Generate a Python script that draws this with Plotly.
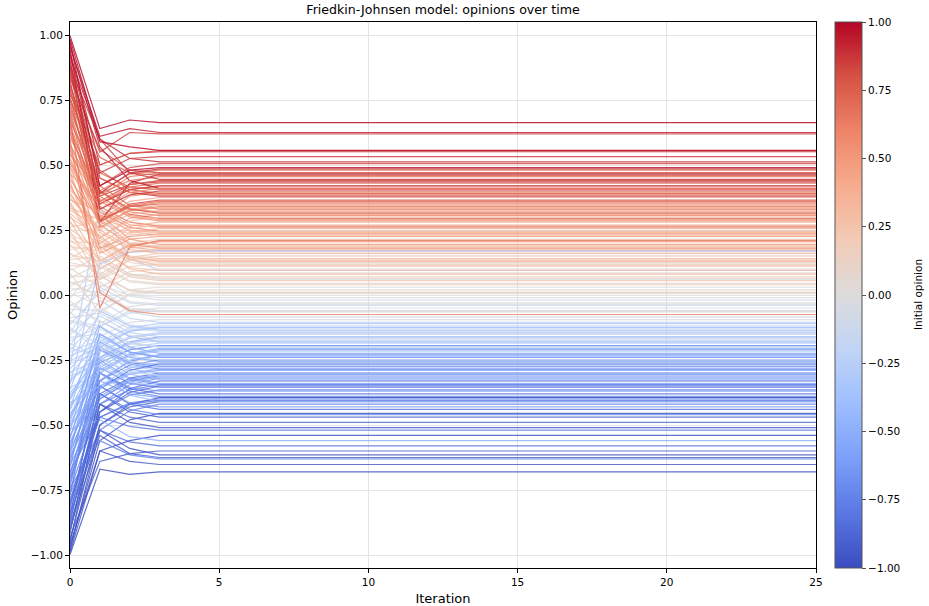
import plotly.graph_objects as go
from plotly.colors import sample_colorscale

iterations = list(range(26))

# Opinion of each agent at iteration 0 (initial), 1, 2 and the settled value (iteration 3+)
initial = [
    -0.998, -0.991, -0.983, -0.972, -0.961, -0.953, -0.944, -0.931, -0.918, -0.905,
    -0.896, -0.884, -0.877, -0.866, -0.852, -0.843, -0.835, -0.822, -0.811, -0.803,
    -0.794, -0.786, -0.771, -0.763, -0.752, -0.741, -0.733, -0.722, -0.710, -0.702,
    -0.695, -0.684, -0.676, -0.663, -0.655, -0.644, -0.632, -0.621, -0.613, -0.604,
    -0.597, -0.588, -0.574, -0.566, -0.553, -0.545, -0.536, -0.524, -0.515, -0.503,
    -0.496, -0.487, -0.473, -0.466, -0.455, -0.442, -0.434, -0.425, -0.413, -0.404,
    -0.398, -0.386, -0.377, -0.365, -0.357, -0.344, -0.336, -0.324, -0.312, -0.303,
    -0.297, -0.285, -0.276, -0.264, -0.253, -0.245, -0.233, -0.221, -0.214, -0.202,
    -0.196, -0.187, -0.176, -0.163, -0.154, -0.146, -0.133, -0.125, -0.114, -0.103,
    -0.097, -0.088, -0.074, -0.066, -0.055, -0.043, -0.034, -0.022, -0.013, -0.004,
    0.006, 0.015, 0.027, 0.034, 0.046, 0.053, 0.065, 0.072, 0.084, 0.093,
    0.104, 0.113, 0.125, 0.136, 0.142, 0.155, 0.163, 0.174, 0.186, 0.195,
    0.203, 0.214, 0.226, 0.233, 0.247, 0.255, 0.262, 0.276, 0.284, 0.297,
    0.306, 0.315, 0.327, 0.334, 0.348, 0.356, 0.365, 0.373, 0.385, 0.394,
    0.403, 0.416, 0.424, 0.435, 0.443, 0.456, 0.465, 0.474, 0.487, 0.496,
    0.505, 0.513, 0.526, 0.537, 0.544, 0.558, 0.566, 0.575, 0.583, 0.597,
    0.604, 0.617, 0.625, 0.633, 0.648, 0.655, 0.664, 0.676, 0.683, 0.695,
    0.703, 0.712, 0.724, 0.736, 0.745, 0.753, 0.767, 0.774, 0.786, 0.795,
    0.806, 0.813, 0.827, 0.834, 0.845, 0.858, 0.866, 0.875, 0.884, 0.897,
    0.904, 0.916, 0.925, 0.937, 0.945, 0.953, 0.964, 0.976, 0.985, 0.997,
]

iter1 = [
    -0.670, -0.600, -0.520, -0.560, -0.600, -0.420, -0.500, -0.640, -0.380, -0.450,
    -0.540, -0.500, -0.380, -0.420, -0.300, -0.520, -0.450, -0.350, -0.360, -0.470,
    -0.450, -0.470, -0.210, -0.520, -0.420, -0.560, -0.330, -0.300, -0.400, -0.380,
    -0.280, -0.330, -0.470, -0.200, -0.420, -0.260, -0.350, -0.390, -0.300, -0.150,
    -0.350, -0.250, -0.300, -0.330, -0.180, -0.240, -0.400, -0.120, -0.480, -0.360,
    -0.290, -0.180, -0.260, -0.220, -0.330, -0.210, -0.100, -0.300, -0.350, -0.200,
    -0.160, -0.280, -0.240, -0.060, -0.300, 0.120, -0.200, -0.250, -0.270, -0.180,
    -0.250, -0.150, 0.340, -0.220, -0.200, -0.120, -0.190, -0.170, -0.080, -0.240,
    -0.020, -0.240, -0.120, -0.150, -0.050, 0.030, -0.190, -0.220, 0.010, -0.130,
    -0.120, -0.070, 0.080, -0.160, -0.060, 0.020, -0.100, -0.110, 0.130, 0.040,
    -0.040, 0.050, 0.010, 0.090, 0.060, -0.010, 0.120, 0.070, -0.070, 0.150,
    0.030, 0.110, 0.100, 0.150, 0.200, 0.130, 0.070, 0.190, 0.170, 0.080,
    0.200, 0.120, 0.140, 0.180, 0.060, 0.170, 0.280, 0.220, 0.100, 0.230,
    0.130, 0.220, 0.260, 0.290, 0.170, 0.190, 0.320, 0.250, 0.240, 0.200,
    0.300, 0.250, 0.220, 0.130, 0.290, 0.210, 0.370, 0.160, 0.270, 0.310,
    0.330, 0.300, 0.270, 0.400, 0.350, 0.180, 0.280, 0.360, 0.330, 0.010,
    0.400, 0.350, 0.320, 0.380, 0.260, 0.340, 0.450, 0.390, -0.050, 0.280,
    0.350, 0.420, 0.400, 0.380, 0.470, 0.500, 0.290, 0.530, 0.400, 0.360,
    0.480, 0.420, 0.280, 0.560, 0.550, 0.350, 0.470, 0.600, 0.330, 0.390,
    0.380, 0.600, 0.450, 0.500, 0.280, 0.610, 0.570, 0.420, 0.590, 0.640,
]

iter2 = [
    -0.690, -0.560, -0.590, -0.480, -0.640, -0.490, -0.420, -0.610, -0.450, -0.375,
    -0.610, -0.430, -0.320, -0.470, -0.360, -0.565, -0.360, -0.420, -0.290, -0.420,
    -0.385, -0.505, -0.265, -0.445, -0.365, -0.615, -0.270, -0.370, -0.330, -0.440,
    -0.340, -0.255, -0.415, -0.260, -0.345, -0.210, -0.415, -0.325, -0.355, -0.220,
    -0.300, -0.320, -0.230, -0.380, -0.240, -0.180, -0.335, -0.200, -0.545, -0.305,
    -0.225, -0.255, -0.325, -0.165, -0.250, -0.285, -0.160, -0.385, -0.280, -0.140,
    -0.220, -0.210, -0.305, -0.120, -0.235, 0.165, -0.265, -0.185, -0.335, -0.125,
    -0.200, -0.220, 0.140, -0.160, -0.275, -0.185, -0.135, -0.235, -0.145, -0.295,
    -0.090, -0.190, -0.070, -0.205, -0.115, -0.030, -0.255, -0.165, -0.065, -0.185,
    -0.060, -0.130, -0.005, -0.105, 0.000, -0.055, -0.155, -0.045, 0.075, -0.002,
    0.020, -0.025, 0.075, 0.015, 0.110, -0.050, 0.055, 0.140, 0.005, 0.080,
    0.090, 0.050, 0.165, 0.080, 0.145, 0.200, 0.020, 0.125, 0.230, 0.145,
    0.135, 0.180, 0.070, 0.255, 0.135, 0.105, 0.235, 0.285, 0.165, 0.135,
    0.195, 0.150, 0.310, 0.200, 0.240, 0.100, 0.245, 0.330, 0.175, 0.265,
    0.250, 0.185, 0.295, 0.190, 0.360, 0.145, 0.305, 0.215, 0.325, 0.215,
    0.270, 0.380, 0.195, 0.330, 0.425, 0.225, 0.340, 0.300, 0.395, -0.060,
    0.320, 0.405, 0.260, 0.455, 0.325, 0.280, 0.395, 0.440, 0.185, 0.345,
    0.415, 0.345, 0.465, 0.310, 0.415, 0.545, 0.340, 0.470, 0.330, 0.425,
    0.405, 0.490, 0.350, 0.480, 0.625, 0.405, 0.525, 0.470, 0.385, 0.470,
    0.425, 0.525, 0.395, 0.545, 0.430, 0.640, 0.440, 0.480, 0.570, 0.673,
]

final = [
    -0.680, -0.540, -0.615, -0.455, -0.652, -0.510, -0.395, -0.600, -0.470, -0.350,
    -0.625, -0.410, -0.300, -0.490, -0.380, -0.580, -0.330, -0.440, -0.265, -0.405,
    -0.365, -0.520, -0.285, -0.420, -0.345, -0.630, -0.250, -0.390, -0.310, -0.460,
    -0.355, -0.230, -0.400, -0.275, -0.320, -0.195, -0.430, -0.305, -0.370, -0.240,
    -0.285, -0.340, -0.210, -0.395, -0.255, -0.160, -0.315, -0.225, -0.560, -0.290,
    -0.205, -0.270, -0.345, -0.150, -0.230, -0.300, -0.180, -0.410, -0.260, -0.125,
    -0.240, -0.195, -0.325, -0.135, -0.215, 0.170, -0.280, -0.165, -0.350, -0.110,
    -0.185, -0.235, 0.095, -0.145, -0.290, -0.200, -0.120, -0.250, -0.160, -0.310,
    -0.105, -0.175, -0.060, -0.220, -0.130, -0.040, -0.270, -0.150, -0.085, -0.200,
    -0.050, -0.140, -0.020, -0.095, 0.010, -0.065, -0.170, -0.030, 0.060, -0.010,
    0.030, -0.035, 0.085, 0.005, 0.120, -0.060, 0.045, 0.150, 0.020, 0.070,
    0.100, 0.040, 0.180, 0.065, 0.135, 0.215, 0.010, 0.110, 0.245, 0.160,
    0.125, 0.190, 0.055, 0.270, 0.150, 0.095, 0.225, 0.300, 0.175, 0.115,
    0.205, 0.140, 0.325, 0.185, 0.255, 0.080, 0.230, 0.345, 0.160, 0.280,
    0.240, 0.170, 0.310, 0.205, 0.375, 0.130, 0.290, 0.225, 0.335, 0.195,
    0.260, 0.395, 0.180, 0.320, 0.440, 0.235, 0.355, 0.285, 0.410, -0.075,
    0.305, 0.420, 0.245, 0.470, 0.340, 0.265, 0.385, 0.455, 0.210, 0.360,
    0.430, 0.330, 0.480, 0.295, 0.405, 0.555, 0.350, 0.460, 0.315, 0.440,
    0.390, 0.505, 0.365, 0.470, 0.620, 0.420, 0.532, 0.445, 0.400, 0.485,
    0.435, 0.512, 0.380, 0.551, 0.465, 0.625, 0.410, 0.490, 0.556, 0.663,
]

opinion_ticks = [-1.0, -0.75, -0.5, -0.25, 0.0, 0.25, 0.5, 0.75, 1.0]
iteration_ticks = [0, 5, 10, 15, 20, 25]

coolwarm = [
    [0.0, "#3b4cc0"], [0.1, "#5977e3"], [0.2, "#7b9ff9"], [0.3, "#9ebeff"],
    [0.4, "#c0d4f5"], [0.5, "#dddcdc"], [0.6, "#f2cbb7"], [0.7, "#f7ac8e"],
    [0.8, "#ee8468"], [0.9, "#d65244"], [1.0, "#b40426"],
]

fig = go.Figure()
n = len(initial)
rows = n // 10
order = [r * 10 + c for c in range(10) for r in range(rows)]
for i in order:
    y = [initial[i], iter1[i], iter2[i]] + [final[i]] * (len(iterations) - 3)
    col = sample_colorscale(coolwarm, [(initial[i] + 1) / 2])[0]
    fig.add_trace(go.Scatter(
        x=iterations, y=y, mode="lines",
        line=dict(color=col, width=1.2), opacity=0.8,
        showlegend=False, hoverinfo="skip",
    ))

fig.add_trace(go.Scatter(
    x=[None], y=[None], mode="markers", showlegend=False, hoverinfo="skip",
    marker=dict(
        color=[0], colorscale=coolwarm, cmin=-1, cmax=1, showscale=True,
        colorbar=dict(
            x=(835 - 70) / 746, xanchor="left", xpad=0, ypad=0,
            y=0.5, yanchor="middle", len=1, lenmode="fraction",
            thickness=27, outlinewidth=1, outlinecolor="#555555",
            tickvals=opinion_ticks, tickformat=".2f",
            ticks="outside", ticklen=4, tickcolor="#555555",
            tickfont=dict(size=10.5, family="DejaVu Sans", color="black"),
        ),
    ),
))

fig.add_annotation(
    text="Initial opinion", textangle=-90,
    x=(918 - 70) / 746, xref="paper", xanchor="center",
    y=0.5, yref="paper", yanchor="middle",
    showarrow=False, font=dict(size=10.5, family="DejaVu Sans", color="black"),
)

fig.update_layout(
    width=929, height=606,
    margin=dict(l=70, r=113, t=22, b=38, autoexpand=False),
    plot_bgcolor="white", paper_bgcolor="white",
    font=dict(family="DejaVu Sans", size=10.5, color="black"),
    title=dict(text="Friedkin-Johnsen model: opinions over time",
               x=0.5, xref="paper", xanchor="center",
               y=1 - 10 / 606, yref="container", yanchor="middle",
               font=dict(size=12.6, color="black")),
    xaxis=dict(range=[0, 25], tickvals=iteration_ticks, showgrid=True,
               gridcolor="#e4e4e4", gridwidth=1, zeroline=False, automargin=False,
               ticks="outside", ticklen=4, tickcolor="black",
               showline=True, linecolor="black", linewidth=1, mirror=True,
               title=dict(text="Iteration", standoff=7)),
    yaxis=dict(range=[-1.05, 1.05], tickvals=opinion_ticks, tickformat=".2f",
               showgrid=True, gridcolor="#e4e4e4", gridwidth=1, zeroline=False,
               automargin=False,
               ticks="outside", ticklen=4, tickcolor="black",
               showline=True, linecolor="black", linewidth=1, mirror=True,
               title=dict(text="Opinion", standoff=10)),
)

fig.write_html("out.html", config={"displayModeBar": False},
               post_script="document.body.style.margin='0px';")
